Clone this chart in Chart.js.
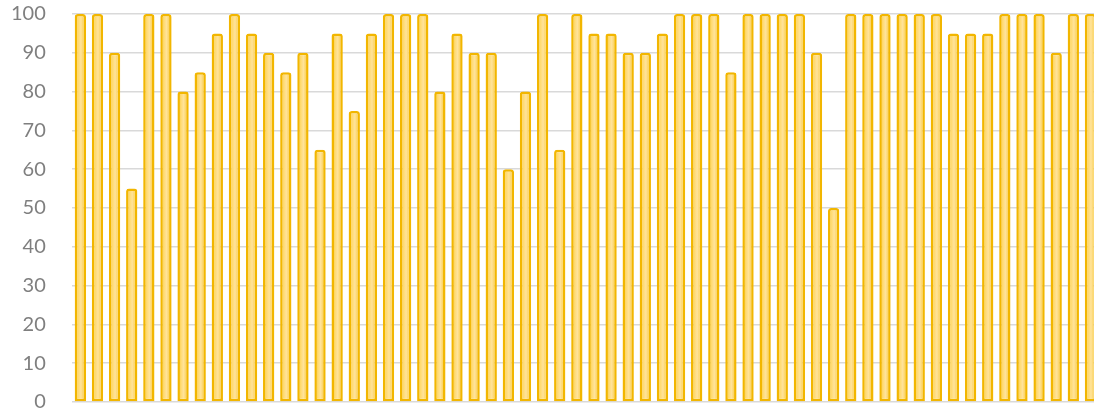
<!DOCTYPE html>
<html>
<head>
<meta charset="utf-8">
<script src="https://cdn.jsdelivr.net/npm/chart.js@4/dist/chart.umd.min.js"></script>
<style>
  html, body { margin: 0; padding: 0; background: #ffffff; overflow: hidden; }
  canvas { display: block; }
</style>
</head>
<body>
<canvas id="c" width="1110" height="416" style="width:1110px;height:416px"></canvas>
<script>
const categories = Array.from({length: 60}, (_, i) => String(i + 1));
const scores = [
  100, 100, 90, 55, 100, 100, 80, 85, 95, 100,
  95, 90, 85, 90, 65, 95, 75, 95, 100, 100,
  100, 80, 95, 90, 90, 60, 80, 100, 65, 100,
  95, 95, 90, 90, 95, 100, 100, 100, 85, 100,
  100, 100, 100, 90, 50, 100, 100, 100, 100, 100,
  100, 95, 95, 95, 100, 100, 100, 90, 100, 100
];
const yTicks = [0, 10, 20, 30, 40, 50, 60, 70, 80, 90, 100];

function barFill(ctx) {
  const chart = ctx.chart;
  const meta = chart.getDatasetMeta(0);
  const el = meta.data[ctx.dataIndex];
  if (!el || el.x == null || isNaN(el.x) || !el.width) return '#FFD34F';
  const half = el.width / 2;
  const g = chart.ctx.createLinearGradient(el.x - half, 0, el.x + half, 0);
  g.addColorStop(0, '#F5BC10');
  g.addColorStop(0.3, '#FFDA70');
  g.addColorStop(0.55, '#FFE39A');
  g.addColorStop(1, '#F7C32A');
  return g;
}

const chart = new Chart(document.getElementById('c'), {
  type: 'bar',
  data: {
    labels: categories,
    datasets: [{
      data: scores,
      backgroundColor: barFill,
      borderColor: '#F2B600',
      borderWidth: 2.5,
      borderSkipped: false,
      borderRadius: { topLeft: 3, topRight: 3, bottomLeft: 0, bottomRight: 0 },
      barPercentage: 0.66,
      categoryPercentage: 1.0
    }]
  },
  options: {
    responsive: false,
    animation: false,
    layout: { padding: { top: 0, bottom: 0, left: 9, right: 11 } },
    plugins: { legend: { display: false }, tooltip: { enabled: false } },
    scales: {
      x: {
        display: false,
        offset: true
      },
      y: {
        min: 0,
        max: 100,
        afterBuildTicks: (axis) => { axis.ticks = yTicks.map(v => ({ value: v })); },
        border: { display: false },
        grid: { color: '#D9D9D9', lineWidth: 1.5, drawTicks: true, tickLength: 24, tickColor: 'rgba(0,0,0,0)' },
        ticks: {
          padding: 2,
          color: '#7F7F7F',
          font: { family: 'Lato', size: 20 }
        }
      }
    }
  }
});
chart.update();
</script>
</body>
</html>
